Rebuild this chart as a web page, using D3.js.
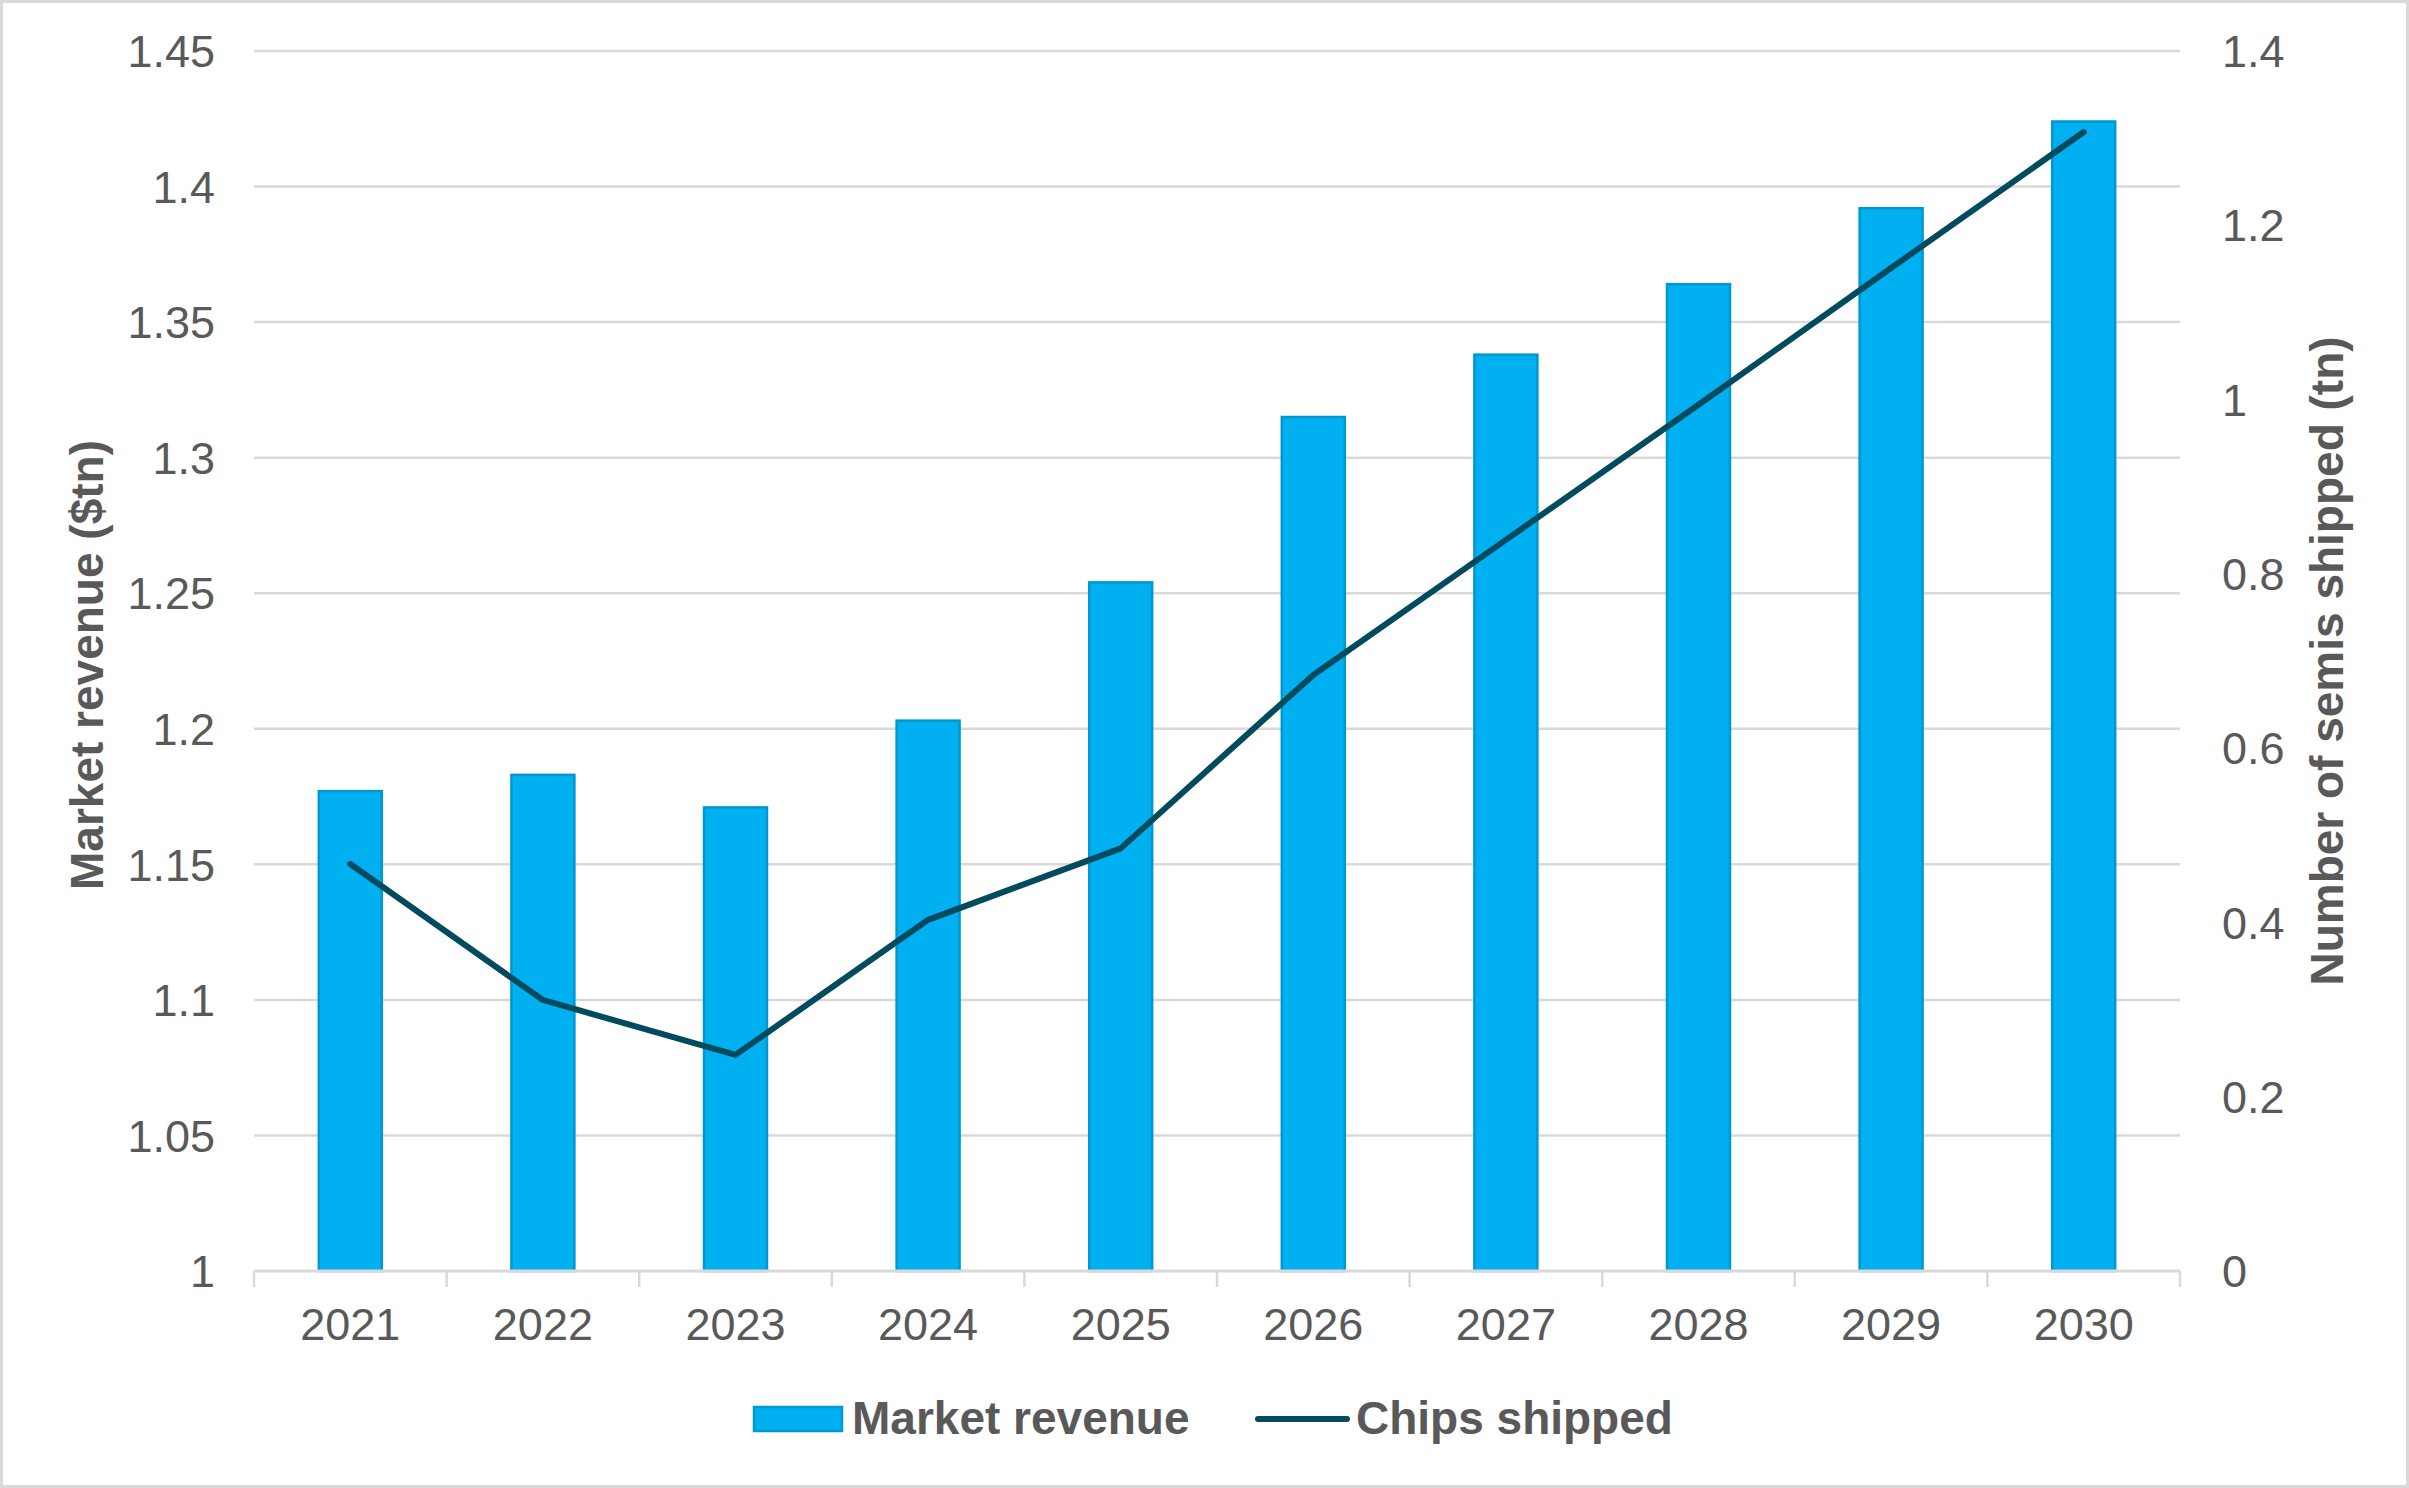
<!DOCTYPE html>
<html>
<head>
<meta charset="utf-8">
<script src="https://cdn.jsdelivr.net/npm/d3@7"></script>
<style>
  html, body { margin: 0; padding: 0; background: #fff; }
  svg { display: block; font-family: "Liberation Sans", Arial, sans-serif; }
</style>
</head>
<body>
<svg width="2409" height="1488"></svg>
<script>
const years = ["2021", "2022", "2023", "2024", "2025", "2026", "2027", "2028", "2029", "2030"];
const revenue = [1.177, 1.183, 1.171, 1.203, 1.254, 1.315, 1.338, 1.364, 1.392, 1.424];
const chips = [0.467, 0.311, 0.248, 0.403, 0.485, 0.684, 0.839, 0.994, 1.151, 1.307];
const leftTicks = [1, 1.05, 1.1, 1.15, 1.2, 1.25, 1.3, 1.35, 1.4, 1.45];
const rightTicks = [0, 0.2, 0.4, 0.6, 0.8, 1, 1.2, 1.4];

const svg = d3.select("svg");
const width = +svg.attr("width");
const height = +svg.attr("height");
const textColor = "#595959";
const gridColor = "#d9d9d9";
const fontSize = 45;
const boldSize = 46;

const plotLeft = 254, plotRight = 2180, plotTop = 51, plotBottom = 1271;

// outer frame
svg.append("rect")
    .attr("x", 1.5).attr("y", 1.5)
    .attr("width", width - 3).attr("height", height - 3)
    .attr("fill", "#fff")
    .attr("stroke", "#d9d9d9")
    .attr("stroke-width", 3);

const x = d3.scaleBand().domain(years).range([plotLeft, plotRight]).paddingInner(0.673).paddingOuter(0.3365);
const xCenter = d => x(d) + x.bandwidth() / 2;
const step = (plotRight - plotLeft) / years.length;
const yLeft = d3.scaleLinear().domain([1, 1.45]).range([plotBottom, plotTop]);
const yRight = d3.scaleLinear().domain([0, 1.4]).range([plotBottom, plotTop]);

// gridlines
svg.append("g")
  .selectAll("line")
  .data(leftTicks.slice(1))
  .join("line")
    .attr("x1", plotLeft).attr("x2", plotRight)
    .attr("y1", d => yLeft(d)).attr("y2", d => yLeft(d))
    .attr("stroke", gridColor)
    .attr("stroke-width", 2.5);

// bars
svg.append("g")
  .selectAll("rect")
  .data(years)
  .join("rect")
    .attr("x", d => x(d))
    .attr("y", (d, i) => yLeft(revenue[i]))
    .attr("width", x.bandwidth())
    .attr("height", (d, i) => plotBottom - yLeft(revenue[i]))
    .attr("fill", "#00b0f0")
    .attr("stroke", "#0098d0")
    .attr("stroke-width", 2.5);

// x axis line and ticks
const xAxisG = svg.append("g");
xAxisG.append("line")
    .attr("x1", plotLeft).attr("x2", plotRight)
    .attr("y1", plotBottom).attr("y2", plotBottom)
    .attr("stroke", gridColor)
    .attr("stroke-width", 3);
xAxisG.selectAll("line.tick")
  .data(d3.range(years.length + 1))
  .join("line")
    .attr("class", "tick")
    .attr("x1", i => plotLeft + i * step).attr("x2", i => plotLeft + i * step)
    .attr("y1", plotBottom).attr("y2", plotBottom + 16)
    .attr("stroke", gridColor)
    .attr("stroke-width", 2.5);
xAxisG.selectAll("text")
  .data(years)
  .join("text")
    .attr("x", d => xCenter(d))
    .attr("y", 1340)
    .attr("text-anchor", "middle")
    .attr("fill", textColor)
    .attr("font-size", fontSize)
    .text(d => d);

// line
const line = d3.line()
    .x((d, i) => xCenter(years[i]))
    .y(d => yRight(d));

svg.append("path")
    .datum(chips)
    .attr("d", line)
    .attr("fill", "none")
    .attr("stroke", "#024b5f")
    .attr("stroke-width", 6)
    .attr("stroke-linecap", "round")
    .attr("stroke-linejoin", "round");

// left axis labels
svg.append("g")
  .selectAll("text")
  .data(leftTicks)
  .join("text")
    .attr("x", 215)
    .attr("y", d => yLeft(d))
    .attr("dy", "0.36em")
    .attr("text-anchor", "end")
    .attr("fill", textColor)
    .attr("font-size", fontSize)
    .text(d => d3.format("~g")(d));

// right axis labels
svg.append("g")
  .selectAll("text")
  .data(rightTicks)
  .join("text")
    .attr("x", 2222)
    .attr("y", d => yRight(d))
    .attr("dy", "0.36em")
    .attr("text-anchor", "start")
    .attr("fill", textColor)
    .attr("font-size", fontSize)
    .text(d => d3.format("~g")(d));

// axis titles
svg.append("text")
    .attr("transform", `translate(103, ${(plotTop + plotBottom) / 2 + 4}) rotate(-90)`)
    .attr("text-anchor", "middle")
    .attr("fill", textColor)
    .attr("font-size", boldSize)
    .attr("font-weight", "bold")
    .text("Market revenue ($tn)");

svg.append("text")
    .attr("transform", `translate(2343, ${(plotTop + plotBottom) / 2}) rotate(-90)`)
    .attr("text-anchor", "middle")
    .attr("fill", textColor)
    .attr("font-size", boldSize)
    .attr("font-weight", "bold")
    .text("Number of semis shipped (tn)");

// legend
const legend = svg.append("g");
legend.append("rect")
    .attr("x", 754).attr("y", 1407)
    .attr("width", 88).attr("height", 24)
    .attr("fill", "#00b0f0")
    .attr("stroke", "#0098d0")
    .attr("stroke-width", 2.5);
legend.append("text")
    .attr("x", 852).attr("y", 1434)
    .attr("fill", textColor)
    .attr("font-size", boldSize)
    .attr("font-weight", "bold")
    .text("Market revenue");
legend.append("line")
    .attr("x1", 1258).attr("x2", 1347)
    .attr("y1", 1419).attr("y2", 1419)
    .attr("stroke", "#024b5f")
    .attr("stroke-width", 6)
    .attr("stroke-linecap", "round");
legend.append("text")
    .attr("x", 1356).attr("y", 1434)
    .attr("fill", textColor)
    .attr("font-size", boldSize)
    .attr("font-weight", "bold")
    .text("Chips shipped");
</script>
</body>
</html>
